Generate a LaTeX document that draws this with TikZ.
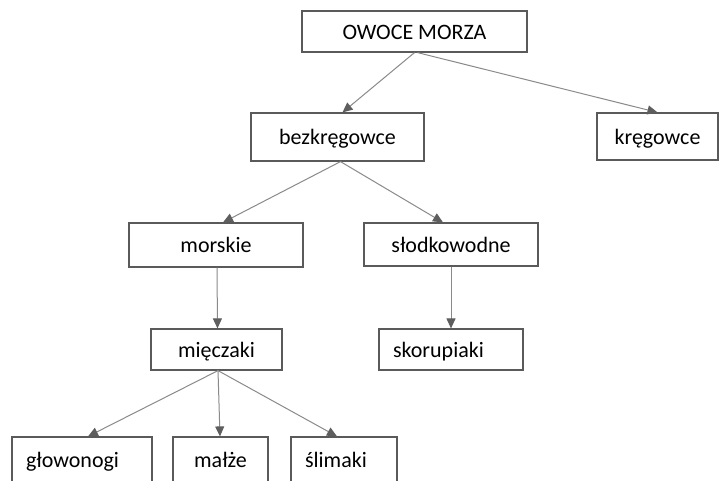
\documentclass[tikz,border=0pt]{standalone}
\usepackage{fontspec}
\setmainfont{Carlito}
\usetikzlibrary{arrows.meta}
\definecolor{boxline}{HTML}{5A5A5A}
\definecolor{arrline}{HTML}{8A8A8A}
\definecolor{arrhead}{HTML}{5E5E5E}
\begin{document}
\begin{tikzpicture}[x=1pt,y=-1pt,
  box/.style={draw=boxline,line width=1.2pt,rectangle,inner sep=0pt,
    text height=18pt,text depth=3pt,
    font=\fontsize{22}{25}\selectfont,text=black},
  lbox/.style={box,align=left,inner xsep=14pt},
  arr/.style={draw=arrline,line width=1pt,
    -{Triangle[length=10pt,width=9pt,fill=arrhead,color=arrhead]}}]
\useasboundingbox (0,0) rectangle (719,480);
\fill[white] (0,0) rectangle (719,480);
\node[box,minimum width=225pt,minimum height=41pt] (owoce) at (414.5,31.5) {OWOCE MORZA};
\node[box,minimum width=173pt,minimum height=48pt] (bezk) at (337.5,137) {bezkręgowce};
\node[box,minimum width=121pt,minimum height=47pt] (kreg) at (657.5,136.5) {kręgowce};
\node[box,minimum width=174pt,minimum height=44pt] (morskie) at (216,245) {morskie};
\node[box,minimum width=174pt,minimum height=43pt] (slodk) at (451,244.5) {słodkowodne};
\node[box,minimum width=131pt,minimum height=41pt] (miecz) at (216.5,349.5) {mięczaki};
\node[lbox,text width=116pt,minimum height=41pt] (skor) at (451,349.5) {skorupiaki};
\node[lbox,text width=112pt,minimum height=45pt] (glow) at (82,459.5) {głowonogi};
\node[box,minimum width=95pt,minimum height=45pt] (malze) at (220.5,459.5) {małże};
\node[lbox,text width=78pt,minimum height=45pt] (slim) at (344,459.5) {ślimaki};
\draw[arr] (owoce.south) -- ([xshift=5pt]bezk.north);
\draw[arr] ([xshift=3pt]owoce.south) -- (kreg.north);
\draw[arr] ([xshift=3pt]bezk.south) -- ([xshift=7pt]morskie.north);
\draw[arr] ([xshift=3pt]bezk.south) -- ([xshift=-8pt]slodk.north);
\draw[arr] ([xshift=1pt]morskie.south) -- ([xshift=1pt]miecz.north);
\draw[arr] (slodk.south) -- (skor.north);
\draw[arr] ([xshift=1.5pt]miecz.south) -- ([xshift=6pt]glow.north);
\draw[arr] ([xshift=1.5pt]miecz.south) -- ([xshift=-0.5pt]malze.north);
\draw[arr] ([xshift=1.5pt]miecz.south) -- ([xshift=-7pt]slim.north);
\end{tikzpicture}
\end{document}
